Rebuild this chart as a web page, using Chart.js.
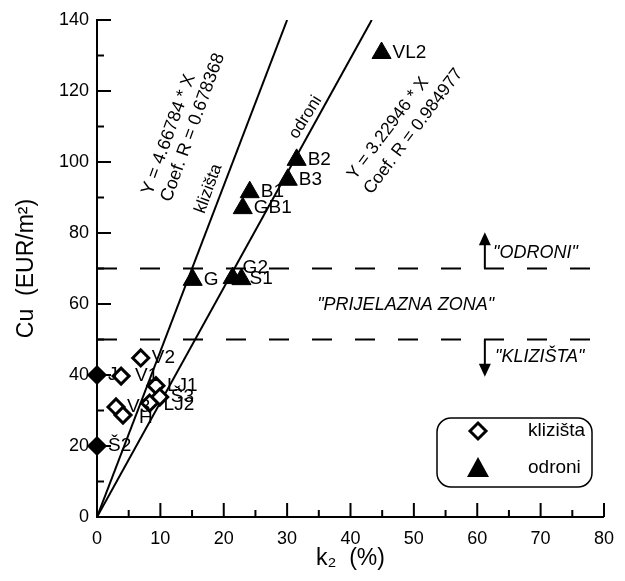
<!DOCTYPE html>
<html>
<head>
<meta charset="utf-8">
<script src="https://cdn.jsdelivr.net/npm/chart.js@4.4.1/dist/chart.umd.min.js"></script>
<style>
  html, body { margin: 0; padding: 0; background: #fff; }
  #wrap { width: 625px; height: 581px; }
</style>
</head>
<body>
<div id="wrap"><canvas id="myChart"></canvas></div>
<script>
// klizišta (landslides) - diamonds
const klizLabels = ['J', 'V1', 'V2', 'LJ1', 'Š3', 'LJ2', 'V3', 'H', 'Š2'];
const klizK2 = [0, 3.8, 6.9, 9.3, 9.9, 8.3, 3.0, 4.1, 0];
const klizCu = [40, 39.7, 44.8, 37, 33.8, 32.1, 31, 28.7, 20];

// odroni (rockfalls) - triangles
const odronLabels = ['VL2', 'B2', 'B3', 'B1', 'GB1', 'G', 'G2', 'S1'];
const odronK2 = [44.9, 31.5, 30.1, 24.1, 23.0, 15.1, 21.4, 22.8];
const odronCu = [130.7, 100.6, 95, 91.5, 87, 66.8, 67.3, 67];

// regression lines (end points)
const klizLineK2 = [0, 30];
const klizLineCu = [0, 140];
const odronLineK2 = [0, 43.35];
const odronLineCu = [0, 140];

// zone limits
const zoneLimits = [70, 50];

const xTicks = [0, 10, 20, 30, 40, 50, 60, 70, 80];
const yTicks = [0, 20, 40, 60, 80, 100, 120, 140];

const FONT = "'Liberation Sans', Arial, sans-serif";
const toPts = (xs, ys) => xs.map((v, i) => ({x: v, y: ys[i]}));

const labelOffsets = { 'G2': [10, -10], 'S1': [8, 0], 'H': [16, 3], 'LJ2': [14, 2], 'V1': [14, 0] };

const extras = {
  id: 'extras',
  afterDatasetsDraw(chart) {
    const {ctx, scales: {x, y}, chartArea: a} = chart;
    ctx.save();
    ctx.strokeStyle = '#000';
    ctx.fillStyle = '#000';
    ctx.lineWidth = 2;

    // inward ticks
    for (let v = xTicks[0]; v <= xTicks[xTicks.length - 1]; v += 5) {
      const px = x.getPixelForValue(v);
      const len = v % 10 === 0 ? 14 : 7;
      ctx.beginPath(); ctx.moveTo(px, a.bottom); ctx.lineTo(px, a.bottom - len); ctx.stroke();
    }
    for (let v = yTicks[0]; v <= yTicks[yTicks.length - 1]; v += 10) {
      const py = y.getPixelForValue(v);
      const len = v % 20 === 0 ? 14 : 7;
      ctx.beginPath(); ctx.moveTo(a.left, py); ctx.lineTo(a.left + len, py); ctx.stroke();
    }

    // point labels
    ctx.font = '19px ' + FONT;
    ctx.textAlign = 'left';
    ctx.textBaseline = 'middle';
    [[0, klizLabels], [1, odronLabels]].forEach(([di, labs]) => {
      chart.getDatasetMeta(di).data.forEach((el, i) => {
        const off = labelOffsets[labs[i]] || [11, 0];
        ctx.fillText(labs[i], el.x + off[0], el.y + off[1]);
      });
    });

    // arrows
    const ax = x.getPixelForValue(61.2);
    const arrow = (y0, y1) => {
      const dir = y1 < y0 ? -1 : 1;
      ctx.beginPath(); ctx.moveTo(ax, y0); ctx.lineTo(ax, y1 - dir * 10); ctx.stroke();
      ctx.beginPath();
      ctx.moveTo(ax, y1); ctx.lineTo(ax - 6, y1 - dir * 13); ctx.lineTo(ax + 6, y1 - dir * 13);
      ctx.closePath(); ctx.fill();
    };
    arrow(y.getPixelForValue(70), y.getPixelForValue(80.2));
    arrow(y.getPixelForValue(50), y.getPixelForValue(39.5));

    ctx.font = 'italic 18px ' + FONT;
    ctx.textBaseline = 'middle';
    ctx.textAlign = 'left';
    ctx.fillText('"ODRONI"', x.getPixelForValue(62.5), y.getPixelForValue(74.5));
    ctx.fillText('"KLIZIŠTA"', x.getPixelForValue(62.8), y.getPixelForValue(45.2));
    ctx.textAlign = 'center';
    ctx.fillText('"PRIJELAZNA ZONA"', x.getPixelForValue(48.7), y.getPixelForValue(59.8));

    // rotated texts along lines
    const rot = (txt, vx, vy, deg, size, align) => {
      ctx.save();
      ctx.translate(x.getPixelForValue(vx), y.getPixelForValue(vy));
      ctx.rotate(-deg * Math.PI / 180);
      ctx.font = size + 'px ' + FONT;
      ctx.textAlign = align || 'center';
      ctx.textBaseline = 'middle';
      ctx.fillText(txt, 0, 0);
      ctx.restore();
    };
    rot('Y = 4.66784 * X', 7.9, 91.0, 70, 18, 'left');
    rot('Coef. R = 0.678368', 10.9, 89.0, 70, 18, 'left');
    rot('klizišta', 17.6, 92.5, 70, 17);
    rot('odroni', 32.9, 112.6, 58, 17);
    rot('Y = 3.22946 * X', 40.1, 95.6, 53, 17.5, 'left');
    rot('Coef. R = 0.984977', 42.7, 91.5, 53, 17.5, 'left');

    // legend box
    const bx = 437, by = 418, bw = 155, bh = 69, r = 14;
    ctx.lineWidth = 1.5;
    ctx.beginPath();
    ctx.roundRect(bx, by, bw, bh, r);
    ctx.stroke();
    const mx = 478;
    // diamond
    ctx.lineWidth = 3;
    ctx.beginPath();
    ctx.moveTo(mx - 8, 431); ctx.lineTo(mx, 423); ctx.lineTo(mx + 8, 431); ctx.lineTo(mx, 439);
    ctx.closePath();
    ctx.fillStyle = '#fff'; ctx.fill(); ctx.stroke();
    // triangle
    ctx.fillStyle = '#000';
    ctx.beginPath();
    ctx.moveTo(mx, 457); ctx.lineTo(mx + 11, 477); ctx.lineTo(mx - 11, 477);
    ctx.closePath(); ctx.fill();
    ctx.font = '19px ' + FONT;
    ctx.textAlign = 'left';
    ctx.textBaseline = 'middle';
    ctx.fillText('klizišta', 528, 431);
    ctx.fillText('odroni', 528, 468);

    ctx.restore();
  }
};

const data = {
  datasets: [
    {
      label: 'klizišta',
      data: toPts(klizK2, klizCu),
      pointStyle: 'rectRot',
      pointRadius: 8,
      borderWidth: 3,
      borderColor: '#000',
      // points sitting on the axis look filled in the original (overlapping marks)
      backgroundColor: (c) => (c.raw && c.raw.x === 0 ? '#000' : '#fff'),
      clip: false,
      order: 1
    },
    {
      label: 'odroni',
      data: toPts(odronK2, odronCu),
      pointStyle: 'triangle',
      pointRadius: 11,
      borderWidth: 1,
      borderColor: '#000',
      backgroundColor: '#000',
      clip: false,
      order: 0
    },
    {
      data: toPts(klizLineK2, klizLineCu),
      showLine: true, pointRadius: 0, borderColor: '#000', borderWidth: 2, order: 2
    },
    {
      data: toPts(odronLineK2, odronLineCu),
      showLine: true, pointRadius: 0, borderColor: '#000', borderWidth: 2, order: 2
    },
    ...zoneLimits.map(v => ({
      data: toPts(xTicks.filter((t, i) => i === 0 || i === xTicks.length - 1), [v, v]),
      showLine: true, pointRadius: 0, borderColor: '#000', borderWidth: 2,
      borderDash: [20, 23], order: 3
    }))
  ]
};

const config = {
  type: 'scatter',
  data: data,
  options: {
    responsive: true,
    maintainAspectRatio: false,
    animation: false,
    layout: { padding: { top: 20, right: 20, left: 0, bottom: 0 } },
    plugins: { legend: { display: false }, tooltip: { enabled: false } },
    scales: {
      x: {
        type: 'linear', min: 0, max: 80,
        afterFit: (s) => { s.height = 64; },
        afterBuildTicks: (s) => { s.ticks = xTicks.map(v => ({value: v})); },
        ticks: { color: '#000', font: { family: FONT, size: 18 }, padding: 11 },
        grid: { drawOnChartArea: false, drawTicks: false },
        border: { color: '#000', width: 2 },
        title: { display: true, text: 'k₂  (%)', color: '#000', font: { family: FONT, size: 23 }, padding: { bottom: 9 } }
      },
      y: {
        type: 'linear', min: 0, max: 140,
        afterFit: (s) => { s.width = 97; },
        afterBuildTicks: (s) => { s.ticks = yTicks.map(v => ({value: v})); },
        ticks: { color: '#000', font: { family: FONT, size: 18 }, padding: 8 },
        grid: { drawOnChartArea: false, drawTicks: false },
        border: { color: '#000', width: 2 },
        title: { display: true, text: 'Cu  (EUR/m²)', color: '#000', font: { family: FONT, size: 23 }, padding: { top: 13 } }
      }
    }
  },
  plugins: [extras]
};

const myChart = new Chart(document.getElementById('myChart'), config);
</script>
</body>
</html>
